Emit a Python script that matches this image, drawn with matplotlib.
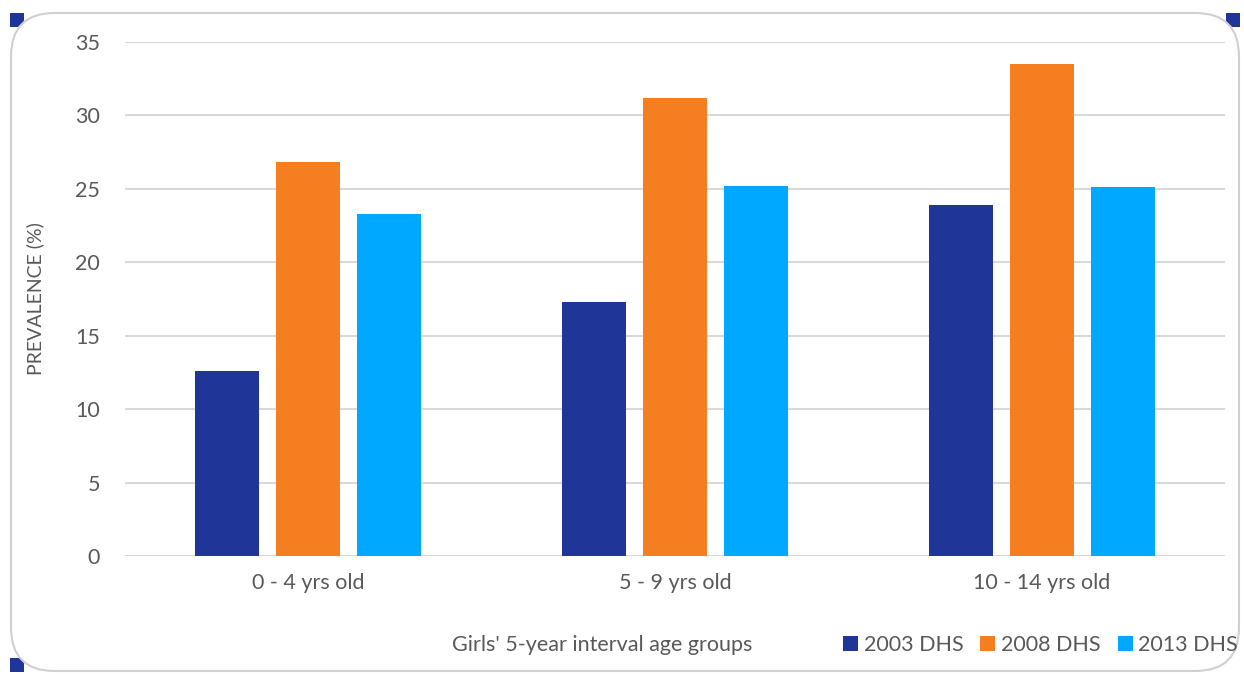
import matplotlib
matplotlib.use("Agg")
import matplotlib.pyplot as plt
from matplotlib.patches import FancyBboxPatch, Rectangle
import numpy as np

# Veriler
age_groups = ["0 - 4 yrs old", "5 - 9 yrs old", "10 - 14 yrs old"]
surveys = ["2003 DHS", "2008 DHS", "2013 DHS"]
dhs_2003 = [12.6, 17.3, 23.9]
dhs_2008 = [26.8, 31.2, 33.5]
dhs_2013 = [23.3, 25.2, 25.1]
colors = ["#203598", "#F47E20", "#00A9FF"]

plt.rcParams['font.family'] = ['Lato', 'DejaVu Sans']
text_color = "#595959"
fs = 15.5

fig = plt.figure(figsize=(12.44, 6.75), dpi=100)

# Çerçeve (köşelerde lacivert parçalar)
for (x0, y0) in [(10 / 1244, 648 / 675), (10 / 1244, 3 / 675), (1226 / 1244, 648 / 675)]:
    fig.patches.append(Rectangle((x0, y0), 14 / 1244, 14 / 675, transform=fig.transFigure,
                                 facecolor="#203598", edgecolor="none", zorder=0))
frame = FancyBboxPatch((11 / 1244, 4 / 675), 1228 / 1244, 658 / 675,
                       boxstyle="round,pad=0,rounding_size=0.035",
                       transform=fig.transFigure, facecolor="white",
                       edgecolor="#D0D0D0", linewidth=1.5, zorder=1,
                       mutation_aspect=1244 / 675)
fig.patches.append(frame)

ax = fig.add_axes([125 / 1244, 119 / 675, 1100 / 1244, 514 / 675])
ax.set_facecolor("none")
ax.set_zorder(5)

x = np.arange(len(age_groups))
width = 0.174
step = 0.221
for i, (vals, lab) in enumerate(zip([dhs_2003, dhs_2008, dhs_2013], surveys)):
    ax.bar(x + (i - 1) * step, vals, width, color=colors[i], label=lab, zorder=3)

ax.set_xlim(-0.5, 2.5)
ax.set_ylim(0, 35)
ax.set_yticks(range(0, 36, 5))
ax.set_xticks(x)
ax.set_xticklabels(age_groups)
ax.grid(axis="y", color="#D9D9D9", linewidth=1.5, zorder=0)
for s in ax.spines.values():
    s.set_visible(False)
ax.tick_params(axis="both", length=0, labelsize=fs, labelcolor=text_color)
ax.tick_params(axis="y", pad=18)
ax.tick_params(axis="x", pad=12)

ax.set_ylabel("PREVALENCE (%)", fontsize=14, color=text_color, labelpad=22)
fig.text(602 / 1244, 1 - 645 / 675, "Girls' 5-year interval age groups",
         fontsize=fs, color=text_color, ha="center", va="center", zorder=6)

leg = fig.legend(loc="center right", bbox_to_anchor=(1257 / 1244, 1 - 645 / 675), ncol=3,
                 frameon=False, fontsize=fs, handlelength=0.7, handleheight=0.7,
                 handletextpad=0.25, columnspacing=0.8, labelcolor=text_color)
leg.set_zorder(6)

fig.savefig("out.png", dpi=100)
